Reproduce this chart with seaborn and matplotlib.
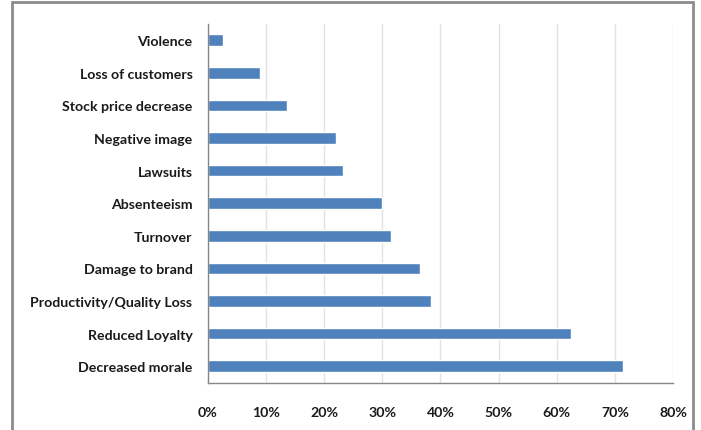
import matplotlib
matplotlib.use("Agg")
import matplotlib.pyplot as plt
import seaborn as sns
import pandas as pd
from matplotlib.lines import Line2D
from matplotlib.ticker import FuncFormatter

categories = ["Violence", "Loss of customers", "Stock price decrease", "Negative image",
              "Lawsuits", "Absenteeism", "Turnover", "Damage to brand",
              "Productivity/Quality Loss", "Reduced Loyalty", "Decreased morale"]
values = [2.7, 9.0, 13.6, 22.1, 23.2, 30.0, 31.5, 36.5, 38.4, 62.4, 71.4]
xticks = [0, 10, 20, 30, 40, 50, 60, 70, 80]

sns.set_theme(style="white")
plt.rcParams['font.family'] = ['Lato', 'DejaVu Sans']

df = pd.DataFrame({"category": categories, "value": values})

fig = plt.figure(figsize=(7.01, 4.31), dpi=100)
ax = fig.add_axes([0.2963, 0.1102, 0.664, 0.832])
sns.barplot(data=df, y="category", x="value", orient="h", color="#4F81BD",
            saturation=1, width=0.36, ax=ax)

ax.set_xlim(0, 80)
ax.set_xticks(xticks)
ax.xaxis.set_major_formatter(FuncFormatter(lambda v, p: f"{int(v)}%"))
ax.set_xlabel("")
ax.set_ylabel("")
ax.grid(axis="x", color="#E3E3E3", linewidth=1)
ax.set_axisbelow(True)
for s in ["top", "right"]:
    ax.spines[s].set_visible(False)
ax.spines["left"].set_color("#868686")
ax.spines["bottom"].set_color("#868686")
ax.spines["left"].set_linewidth(1)
ax.spines["bottom"].set_linewidth(1)
ax.tick_params(axis="x", length=0, pad=17, labelsize=10.2)
ax.tick_params(axis="y", length=0, pad=11, labelsize=10.2)
for lab in ax.get_xticklabels() + ax.get_yticklabels():
    lab.set_fontweight("bold")
    lab.set_color("#1a1a1a")

# outer chart border (partially visible)
bc = "#8C8C8C"
fig.add_artist(Line2D([12/701, 12/701], [0, 1 - 3/431], transform=fig.transFigure, color=bc, lw=2))
fig.add_artist(Line2D([12/701, 693/701], [1 - 3/431, 1 - 3/431], transform=fig.transFigure, color=bc, lw=2))
fig.add_artist(Line2D([693/701, 693/701], [0, 1 - 3/431], transform=fig.transFigure, color=bc, lw=2))

fig.savefig("out.png", dpi=100)
